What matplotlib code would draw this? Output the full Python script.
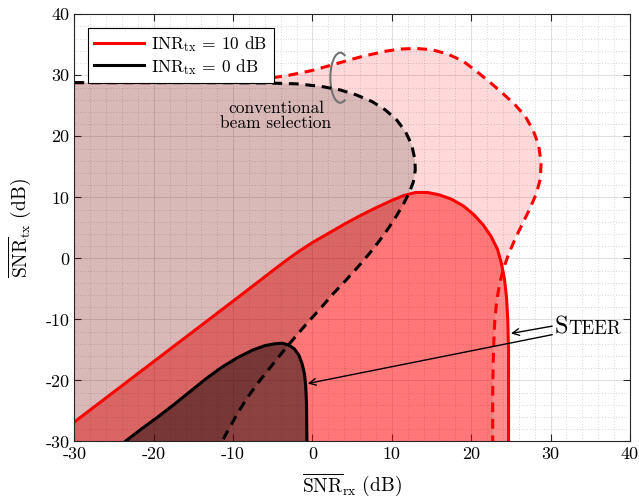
import matplotlib.pyplot as plt
from matplotlib.patches import Arc
from matplotlib.ticker import MultipleLocator

plt.rcParams['font.family'] = 'serif'
plt.rcParams['font.serif'] = ['cmr10']
plt.rcParams['mathtext.fontset'] = 'cm'
plt.rcParams['axes.unicode_minus'] = False

# STEER, INR_tx = 10 dB (red solid)
steer10_x = [-30, -20, -10, -4, -2, 0, 2, 4, 6, 8, 10, 11.5, 13, 14.5, 16, 17.5, 19, 20.3, 21.5,
             22.5, 23.3, 23.8, 24.2, 24.45, 24.6, 24.7, 24.7]
steer10_y = [-26.8, -16.9, -7.0, -1.0, 0.9, 2.6, 4.1, 5.6, 7.0, 8.3, 9.5, 10.3, 10.8, 10.8, 10.4, 9.7, 8.6,
             7.2, 5.5, 3.6, 1.5, -0.8, -3.5, -6.5, -10.0, -15.0, -30]

# STEER, INR_tx = 0 dB (black solid)
steer0_x = [-23.6, -21.5, -19.5, -17.5, -15.5, -13.5, -11.5, -9.5, -7.5, -6.0, -4.8, -3.8, -3.0, -2.3,
            -1.7, -1.3, -1.0, -0.85, -0.75, -0.7]
steer0_y = [-30, -27.9, -26.0, -24.0, -21.9, -19.8, -17.9, -16.3, -15.0, -14.3, -14.0, -13.9, -14.2, -14.8,
            -15.9, -17.3, -19.0, -21.0, -24.0, -30]

# conventional beam selection, INR_tx = 10 dB (red dashed)
conv10_x = [-30, -20, -14, -10, -6, -3, 0, 3, 6, 9, 11, 13, 15, 17, 19, 21, 22.5, 24, 25.5, 26.8,
            27.8, 28.5, 28.8, 28.7, 28.2, 27.4, 26.5, 25.6, 24.8, 24.1, 23.6, 23.2, 22.95, 22.8, 22.7, 22.7]
conv10_y = [28.8, 28.8, 28.85, 29.0, 29.4, 30.0, 30.8, 31.9, 33.0, 33.9, 34.3, 34.4, 34.2, 33.5, 32.3,
            30.3, 28.7, 27.0, 25.2, 23.3, 21.0, 18.5, 15.6, 13.0, 10.6, 8.2, 5.8, 3.4, 1.0, -1.5, -4.0,
            -7.0, -10.5, -15.0, -22.0, -30]

# conventional beam selection, INR_tx = 0 dB (black dashed)
conv0_x = [-30, -15, -6, -2, 1, 3.5, 5.5, 7.5, 9.2, 10.6, 11.7, 12.5, 12.9, 12.95, 12.7, 12.2, 11.5,
           10.6, 9.6, 8.5, 7.3, 5.8, 4.2, 2.6, 1.0, -0.6, -2.0, -3.3, -4.6, -5.9, -7.1, -8.3, -9.4,
           -10.4, -11.4]
conv0_y = [28.8, 28.8, 28.75, 28.6, 28.2, 27.6, 26.8, 25.7, 24.3, 22.7, 20.8, 18.6, 16.2, 14.5, 12.5,
           10.8, 9.0, 7.0, 5.0, 3.0, 1.0, -1.3, -3.6, -5.8, -8.2, -10.5, -12.6, -14.6, -16.7, -18.8,
           -20.8, -23.0, -25.3, -27.6, -30]

xticks = [-30, -20, -10, 0, 10, 20, 30, 40]
yticks = [-30, -20, -10, 0, 10, 20, 30, 40]
xticklabels = ['-30', '-20', '-10', '0', '10', '20', '30', '40']
yticklabels = ['-30', '-20', '-10', '0', '10', '20', '30', '40']

fig = plt.figure(figsize=(6.39, 4.97), dpi=100)
ax = fig.add_axes([0.1164, 0.1117, 0.8695, 0.8596])

# 填充区域 (从坐标轴左下角闭合)
ax.fill(conv10_x + [-30], conv10_y + [-30], color='red', alpha=0.15, lw=0)
ax.fill(steer10_x + [-30], steer10_y + [-30], color='red', alpha=0.45, lw=0)
ax.fill(conv0_x + [-30], conv0_y + [-30], color='black', alpha=0.15, lw=0)
ax.fill(steer0_x, steer0_y, color='black', alpha=0.45, lw=0)

dash = (3.2, 2.2)
ax.plot(steer10_x, steer10_y, color='red', lw=2.2, label=r'INR$_{\mathrm{tx}}$ = 10 dB')
ax.plot(conv10_x, conv10_y, color='red', lw=2.2, dashes=dash)
ax.plot(steer0_x, steer0_y, color='black', lw=2.2, label=r'INR$_{\mathrm{tx}}$ = 0 dB')
ax.plot(conv0_x, conv0_y, color='black', lw=2.2, dashes=dash)

# 椭圆标记 (角度按数据坐标计算)
ax.add_patch(Arc((3.5, 29.6), 2.5, 8.2, theta1=80, theta2=280, color='0.45', lw=1.5))
ax.text(-4.6, 23.4, 'conventional\nbeam selection', ha='center', va='center', fontsize=12.5,
        linespacing=1.0)

# STEER 标注
s = ax.text(30.5, -12.3, 'S', fontsize=17.5, ha='left', va='baseline')
ax.annotate('TEER', xy=(1, 0), xycoords=s, fontsize=13.5, ha='left', va='bottom')
arrow = dict(arrowstyle='->', lw=1, color='black', shrinkA=0, shrinkB=0, mutation_scale=12)
ax.annotate('', xy=(25.0, -12.3), xytext=(30.2, -11.1), arrowprops=arrow)
ax.annotate('', xy=(-0.6, -20.5), xytext=(30.2, -12.5), arrowprops=arrow)

ax.set_xlim(-30, 40)
ax.set_ylim(-30, 40)
ax.set_xticks(xticks)
ax.set_yticks(yticks)
ax.set_xticklabels(xticklabels, fontsize=13)
ax.set_yticklabels(yticklabels, fontsize=13)
ax.xaxis.set_minor_locator(MultipleLocator(2))
ax.yaxis.set_minor_locator(MultipleLocator(2))
ax.tick_params(which='both', direction='in', top=True, right=True, color='0.15')
ax.tick_params(which='major', length=5)
ax.tick_params(which='minor', length=0)
ax.grid(which='major', color='0.85', lw=0.6)
ax.grid(which='minor', color='0.7', lw=0.5, ls=(0, (1, 3)))
ax.set_axisbelow(True)
for sp in ax.spines.values():
    sp.set_color('0.15')
    sp.set_linewidth(0.8)

ax.set_xlabel(r'$\overline{\mathrm{SNR}}_{\mathrm{rx}}\ (\mathrm{dB})$', fontsize=14, labelpad=7)
ax.set_ylabel(r'$\overline{\mathrm{SNR}}_{\mathrm{tx}}\ (\mathrm{dB})$', fontsize=14, labelpad=9)

leg = ax.legend(loc='upper left', bbox_to_anchor=(0.0245, 0.968), borderaxespad=0, fontsize=12.5,
                fancybox=False, edgecolor='black', framealpha=1, handlelength=2.9, handletextpad=0.4,
                borderpad=0.35, labelspacing=0.15)
leg.get_frame().set_linewidth(0.8)

plt.savefig('out.png', dpi=100)
